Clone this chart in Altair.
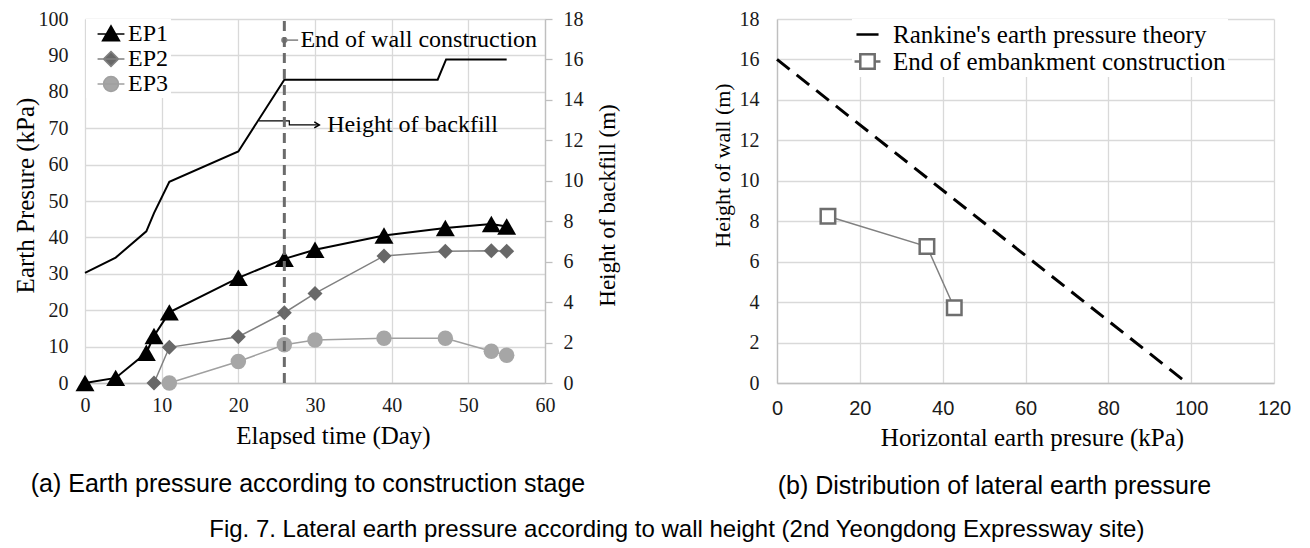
import altair as alt
import pandas as pd

# ---------------- panel (a): earth pressure vs. elapsed time ----------------
ep_names = ["EP1", "EP2", "EP3"]
ep1_day = [0, 4, 8, 9, 11, 20, 26, 30, 39, 47, 53, 55]
ep1_kpa = [0.0, 1.4, 8.3, 12.9, 19.4, 28.9, 34.1, 36.6, 40.5, 42.6, 43.7, 43.0]
ep2_day = [9, 11, 20, 26, 30, 39, 47, 53, 55]
ep2_kpa = [0.0, 9.8, 12.7, 19.3, 24.6, 34.9, 36.2, 36.3, 36.2]
ep3_day = [11, 20, 26, 30, 39, 47, 53, 55]
ep3_kpa = [0.0, 5.9, 10.5, 11.8, 12.3, 12.3, 8.7, 7.6]

backfill_day = [0, 4, 8, 9, 11, 20, 26, 46, 47.1, 55]
backfill_m = [5.45, 6.2, 7.5, 8.4, 9.95, 11.45, 15.0, 15.0, 16.0, 16.0]

wall_end_day = [26]
wall_end_span = [0, 100]
wall_note_day = [26, 27.8]
wall_note_kpa = [94.2, 94.2]
wall_note_text = "End of wall construction"
wall_note_text_day = 28.1

arrow_day = [22.7, 26.65, 26.65, 30.56]
arrow_kpa = [72.0, 72.0, 70.9, 70.9]
backfill_note_text = "Height of backfill"
backfill_note_day = 31.6

# ---------------- panel (b): lateral earth pressure distribution ----------------
b_names = ["Rankine's earth pressure theory", "End of embankment construction"]
rankine_kpa = [0, 99]
rankine_h = [16, 0]
emb_kpa = [12.3, 36.2, 42.8]
emb_h = [8.25, 6.75, 3.72]

cap_a = "(a) Earth pressure according to construction stage"
cap_b = "(b) Distribution of lateral earth pressure"
cap_fig = "Fig. 7. Lateral earth pressure according to wall height (2nd Yeongdong Expressway site)"

# ---------------- style ----------------
SERIF = "Liberation Serif"
SANS = "Liberation Sans"
GRID = "#d9d9d9"
DOMAIN = "#bfbfbf"
TXT = "#1a1a1a"
W_A, W_B, H = 460, 497, 364

ep_marker_col = ["#000000", "#686868", "#a6a6a6"]
ep_line_col = ["#000000", "#808080", "#a0a0a0"]
ep_line_w = [2.0, 1.5, 1.5]
ep_shape = ["triangle-up", "diamond", "circle"]
ep_size = [360, 225, 240]
ep_legend_paths = [
    "M-1.12,0H1.12M0,-0.68L0.7,0.56L-0.7,0.56Z",
    "M-1.12,0H1.12M0,-0.62L0.62,0L0,0.62L-0.62,0Z",
    "M-1.12,0H1.12M-0.62,0A0.62,0.62 0 1,0 0.62,0A0.62,0.62 0 1,0 -0.62,0Z",
]
b_legend_paths = ["M-0.92,0H0.92", "M-1.08,0H-0.6M0.6,0H1.08M-0.6,-0.6H0.6V0.6H-0.6Z"]

# ---------------- tables ----------------
df_ep = pd.concat([
    pd.DataFrame({"day": ep1_day, "val": ep1_kpa, "series": "EP1"}),
    pd.DataFrame({"day": ep2_day, "val": ep2_kpa, "series": "EP2"}),
    pd.DataFrame({"day": ep3_day, "val": ep3_kpa, "series": "EP3"}),
], ignore_index=True)
df_bf = pd.DataFrame({"day": backfill_day, "h": backfill_m})
df_wall = pd.DataFrame({"day": wall_end_day, "lo": [wall_end_span[0]], "hi": [wall_end_span[1]]})
df_wn = pd.DataFrame({"day": wall_note_day, "val": wall_note_kpa})
df_wt = pd.DataFrame({"day": [wall_note_text_day], "val": [wall_note_kpa[0]], "label": [wall_note_text]})
df_arrow = pd.DataFrame({"day": arrow_day, "val": arrow_kpa, "o": list(range(len(arrow_day)))})
df_bt = pd.DataFrame({"day": [backfill_note_day], "val": [arrow_kpa[-1]], "label": [backfill_note_text]})
df_rk = pd.DataFrame({"kpa": rankine_kpa, "h": rankine_h})
df_emb = pd.DataFrame({"kpa": emb_kpa, "h": emb_h})
df_bleg = pd.DataFrame({"kpa": emb_kpa[:2], "h": emb_h[:2], "series": b_names})

# ---------------- axes ----------------
ax_x_a = alt.Axis(values=list(range(0, 61, 10)), title="Elapsed time (Day)", grid=True, gridColor=GRID,
                  gridWidth=1.3, domainColor=DOMAIN, domainWidth=1.3, ticks=False, labelPadding=12,
                  labelFlush=False, labelOverlap=False,
                  labelFont=SERIF, labelFontSize=20, labelColor=TXT, titleFont=SERIF, titleFontSize=25,
                  titleFontWeight="normal", titleColor="black", titleX=248, titleY=52,
                  titleBaseline="middle", titleAlign="center")
ax_y_kpa = alt.Axis(values=list(range(0, 101, 10)), title="Earth Presure (kPa)", grid=True, gridColor=GRID,
                    gridWidth=1.3, domain=False, ticks=False, labelPadding=17, labelFont=SERIF,
                    labelFlush=False, labelOverlap=False,
                    labelFontSize=20, labelColor=TXT, titleFont=SERIF, titleFontSize=25,
                    titleFontWeight="normal", titleColor="black", titleX=-60, titleY=176,
                    titleBaseline="middle", titleAlign="center")
ax_y_bf = alt.Axis(orient="right", values=list(range(0, 19, 2)), title="Height of backfill (m)", grid=False,
                   domainColor=DOMAIN, domainWidth=1.3, tickColor=DOMAIN, tickSize=7, tickWidth=1.3,
                   labelFlush=False, labelOverlap=False,
                   labelPadding=11, labelFont=SERIF, labelFontSize=20, labelColor=TXT, titleFont=SERIF,
                   titleFontSize=23, titleFontWeight="normal", titleColor="black", titleAngle=270,
                   titleX=62, titleY=186, titleBaseline="middle", titleAlign="center")

sx_a = alt.Scale(domain=[0, 60], nice=False)
sy_kpa = alt.Scale(domain=[0, 100], nice=False)
sy_bf = alt.Scale(domain=[0, 18], nice=False)


def XA(f):
    return alt.X(f"{f}:Q", scale=sx_a, axis=ax_x_a)


def YK(f):
    return alt.Y(f"{f}:Q", scale=sy_kpa, axis=ax_y_kpa)


kpa_layers = []
for i in [2, 1, 0]:
    s = ep_names[i]
    base = alt.Chart(df_ep).transform_filter(alt.datum.series == s)
    kpa_layers.append(base.mark_line(color=ep_line_col[i], strokeWidth=ep_line_w[i]).encode(x=XA("day"), y=YK("val")))
for i in [2, 1, 0]:
    s = ep_names[i]
    base = alt.Chart(df_ep).transform_filter(alt.datum.series == s)
    kpa_layers.append(base.mark_point(shape=ep_shape[i], filled=True, size=ep_size[i], color=ep_marker_col[i],
                                      opacity=1, strokeWidth=0).encode(x=XA("day"), y=YK("val")))

wall_rule = alt.Chart(df_wall).mark_rule(color="#6b6b6b", strokeWidth=3, strokeDash=[10, 6]).encode(
    x=XA("day"), y=YK("lo"), y2="hi")
wall_lead = alt.Chart(df_wn).mark_line(color="#808080", strokeWidth=1.5).encode(x=XA("day"), y=YK("val"))
wall_dot = alt.Chart(df_wn.iloc[:1]).mark_point(shape="circle", filled=True, size=40, color="#808080",
                                              opacity=1).encode(x=XA("day"), y=YK("val"))
wall_txt = alt.Chart(df_wt).mark_text(align="left", baseline="middle", font=SERIF, fontSize=24,
                                      color="black").encode(x=XA("day"), y=YK("val"), text="label:N")
arrow_line = alt.Chart(df_arrow).mark_line(color="black", strokeWidth=1.2).encode(
    x=XA("day"), y=YK("val"), order="o:Q")
arrow_head = alt.Chart(df_arrow.iloc[-1:]).mark_point(shape="M-1,-0.6L0,0L-1,0.6", size=100, filled=False,
                                                      color="black", strokeWidth=1.5, opacity=1).encode(
    x=XA("day"), y=YK("val"))
bf_txt = alt.Chart(df_bt).mark_text(align="left", baseline="middle", font=SERIF, fontSize=24,
                                    color="black").encode(x=XA("day"), y=YK("val"), text="label:N")

leg_a = alt.Legend(orient="none", legendX=1, legendY=0, title=None, direction="vertical",
                   labelFont=SERIF, labelFontSize=24, labelColor="black", labelOffset=4, labelLimit=500,
                   symbolSize=576, symbolStrokeWidth=1.6, symbolOffset=10, rowPadding=0,
                   padding=2, fillColor="white")
legend_a_layer = alt.Chart(df_ep).transform_filter("false").mark_point(filled=True, opacity=1).encode(
    x=XA("day"), y=YK("val"),
    shape=alt.Shape("series:N", scale=alt.Scale(domain=ep_names, range=ep_legend_paths), legend=leg_a),
    fill=alt.Fill("series:N", scale=alt.Scale(domain=ep_names, range=ep_marker_col), legend=leg_a),
    stroke=alt.Stroke("series:N", scale=alt.Scale(domain=ep_names, range=ep_line_col), legend=leg_a),
)

kpa_group = alt.layer(*kpa_layers, wall_lead, wall_dot, wall_txt, arrow_line, arrow_head, bf_txt,
                      wall_rule, legend_a_layer)
bf_line = alt.Chart(df_bf).mark_line(color="black", strokeWidth=2).encode(
    x=XA("day"), y=alt.Y("h:Q", scale=sy_bf, axis=ax_y_bf))

chart_a = alt.layer(bf_line, kpa_group).resolve_scale(y="independent").properties(
    width=W_A, height=H,
    title=alt.TitleParams(cap_a, orient="bottom", anchor="middle", frame="group", dx=-7, offset=24,
                          font=SANS, fontSize=25, fontWeight="normal", color="black"))

# ---------------- panel (b) ----------------
ax_x_b = alt.Axis(values=list(range(0, 121, 20)), title="Horizontal earth presure (kPa)", grid=True,
                  gridColor=GRID, gridWidth=1.3, domainColor=DOMAIN, domainWidth=1.3, ticks=False,
                  labelFlush=False, labelOverlap=False,
                  labelPadding=15, labelFont=SANS, labelFontSize=20, labelColor=TXT, titleFont=SERIF,
                  titleFontSize=25, titleFontWeight="normal", titleColor="black", titleX=255, titleY=54,
                  titleBaseline="middle", titleAlign="center")
ax_y_b = alt.Axis(values=list(range(0, 19, 2)), title="Height of wall (m)", grid=True, gridColor=GRID,
                  gridWidth=1.3, domainColor=DOMAIN, domainWidth=1.3, ticks=False, labelPadding=18,
                  labelFlush=False, labelOverlap=False,
                  labelFont=SERIF, labelFontSize=20, labelColor=TXT, titleFont=SERIF, titleFontSize=22,
                  titleFontWeight="normal", titleColor="black", titleX=-55, titleY=146,
                  titleBaseline="middle", titleAlign="center")
sx_b = alt.Scale(domain=[0, 120], nice=False)
sy_b = alt.Scale(domain=[0, 18], nice=False)


def XB(f):
    return alt.X(f"{f}:Q", scale=sx_b, axis=ax_x_b)


def YB(f):
    return alt.Y(f"{f}:Q", scale=sy_b, axis=ax_y_b)


rk_line = alt.Chart(df_rk).mark_line(color="black", strokeWidth=3, strokeDash=[16, 9]).encode(
    x=XB("kpa"), y=YB("h"))
emb_line = alt.Chart(df_emb).mark_line(color="#808080", strokeWidth=1.5).encode(x=XB("kpa"), y=YB("h"))
emb_pts = alt.Chart(df_emb).mark_square(size=210, fill="white", stroke="#6e6e6e", strokeWidth=2.5,
                                        opacity=1, fillOpacity=1).encode(x=XB("kpa"), y=YB("h"))

leg_b = alt.Legend(orient="none", legendX=75, legendY=0, title=None, direction="vertical",
                   labelFont=SERIF, labelFontSize=25, labelColor="black", labelOffset=12, labelLimit=500,
                   symbolSize=576, symbolStrokeWidth=2.5, symbolOffset=0, rowPadding=0,
                   padding=2, fillColor="white")
legend_b_layer = alt.Chart(df_bleg).transform_filter("false").mark_point(filled=True, opacity=1).encode(
    x=XB("kpa"), y=YB("h"),
    shape=alt.Shape("series:N", scale=alt.Scale(domain=b_names, range=b_legend_paths), legend=leg_b),
    fill=alt.Fill("series:N", scale=alt.Scale(domain=b_names, range=["white", "white"]), legend=leg_b),
    stroke=alt.Stroke("series:N", scale=alt.Scale(domain=b_names, range=["black", "#6e6e6e"]), legend=leg_b),
)

chart_b = alt.layer(rk_line, emb_line, emb_pts, legend_b_layer).properties(
    width=W_B, height=H,
    title=alt.TitleParams(cap_b, orient="bottom", anchor="middle", frame="group", dx=-31, offset=24,
                          font=SANS, fontSize=25, fontWeight="normal", color="black"))

chart = alt.hconcat(
    chart_a, chart_b, spacing=232, bounds="flush",
    title=alt.TitleParams(cap_fig, orient="bottom", anchor="middle", dx=25, offset=19, font=SANS,
                          fontSize=24, fontWeight="normal", color="black"),
).resolve_scale(fill="independent", stroke="independent", shape="independent").resolve_legend(
    fill="independent", stroke="independent", shape="independent"
).configure_view(stroke=None).configure_legend(labelFont=SERIF, labelLimit=500).properties(
    padding={"left": 5, "top": 1, "right": 5, "bottom": 2}, background="white")

chart.save("out.html", embed_options={"renderer": "svg", "actions": False})
